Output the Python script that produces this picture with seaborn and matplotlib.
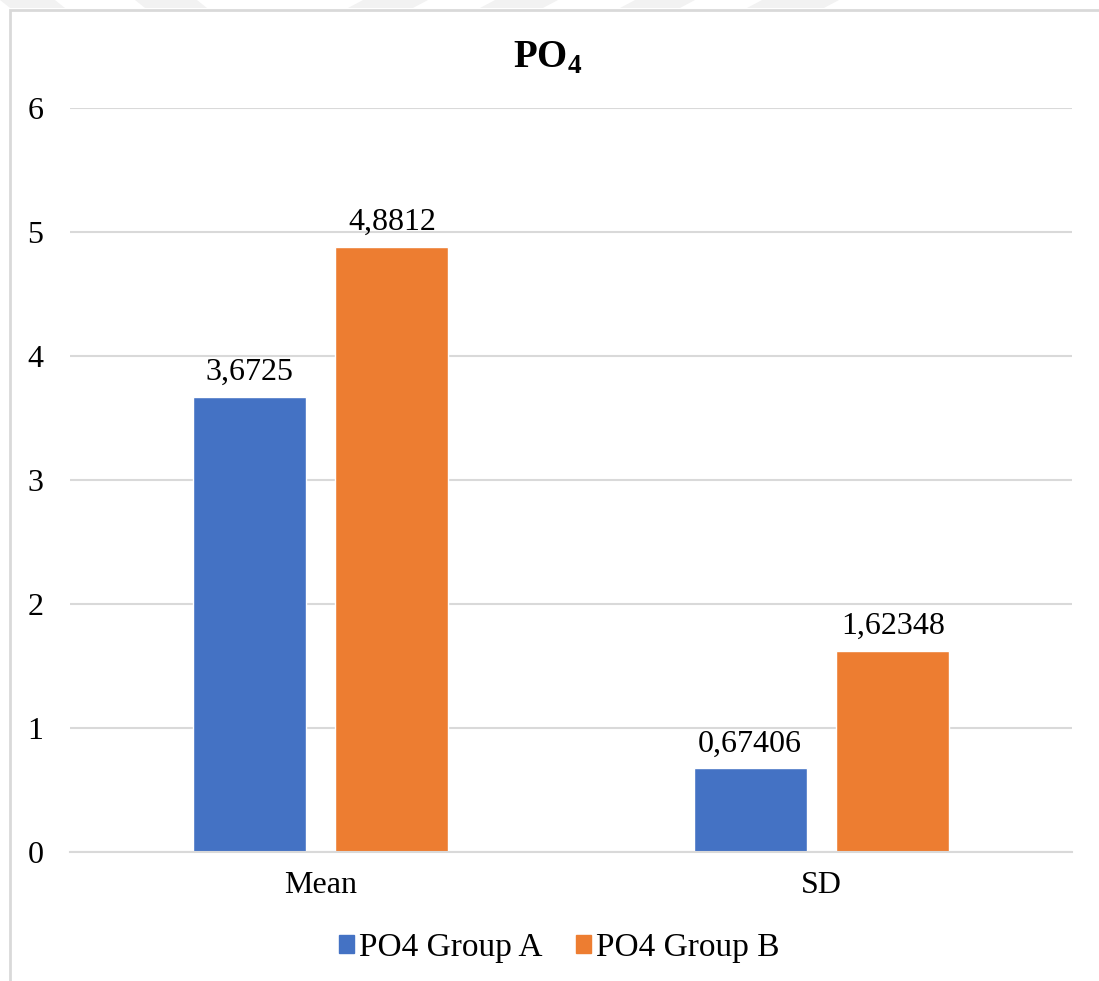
import matplotlib
matplotlib.use('Agg')
import matplotlib.pyplot as plt
import matplotlib.patches as mpatches
import pandas as pd
import seaborn as sns

# Data
categories = ['Mean', 'SD']
groups = ['PO4 Group A', 'PO4 Group B']
group_a = [3.6725, 0.67406]
group_b = [4.8812, 1.62348]
label_a = ['3,6725', '0,67406']
label_b = ['4,8812', '1,62348']
yticks = [0, 1, 2, 3, 4, 5, 6]

colors = ['#4472C4', '#ED7D31']

df = pd.DataFrame({
    'stat': categories * 2,
    'group': [groups[0]] * 2 + [groups[1]] * 2,
    'value': group_a + group_b,
})

sns.set_style('white')
plt.rcParams['font.family'] = ['Liberation Serif', 'DejaVu Serif']
plt.rcParams['mathtext.fontset'] = 'custom'
plt.rcParams['mathtext.rm'] = 'Liberation Serif'
plt.rcParams['mathtext.bf'] = 'Liberation Serif:bold'
plt.rcParams['text.color'] = 'black'
plt.rcParams['xtick.color'] = 'black'
plt.rcParams['ytick.color'] = 'black'

W, H = 1099, 981
fig = plt.figure(figsize=(W / 100, H / 100), dpi=100)
ax = fig.add_axes([70 / W, 1 - 852 / H, (1072 - 70) / W, (852 - 108) / H])

sns.barplot(data=df, x='stat', y='value', hue='group', order=categories,
            hue_order=groups, palette=colors, width=0.57, gap=0.21,
            saturation=1, ax=ax, legend=False)

for cont, labs in zip(ax.containers, [label_a, label_b]):
    ax.bar_label(cont, labels=labs, padding=7, fontsize=23, color='black')

ax.set_ylim(0, 6)
ax.set_yticks(yticks)
ax.set_xlim(-0.5, 1.5)
ax.yaxis.grid(True, color='#D9D9D9', linewidth=1.5)
ax.set_axisbelow(True)
for s in ['top', 'right', 'left']:
    ax.spines[s].set_visible(False)
ax.spines['bottom'].set_color('#D9D9D9')
ax.spines['bottom'].set_linewidth(1.5)
ax.tick_params(axis='y', length=0, pad=19, labelsize=23, labelcolor='black')
ax.tick_params(axis='x', length=0, pad=14, labelsize=23, labelcolor='black')
ax.set_xlabel('')
ax.set_ylabel('')

fig.text(548 / W, 1 - 58 / H, r'$\mathbf{PO}_\mathbf{4}$', ha='center',
         va='center', fontsize=28, color='black')

handles = [mpatches.Patch(color=c, label=g) for c, g in zip(colors, groups)]
fig.legend(handles=handles, loc='center', bbox_to_anchor=(559 / W, 1 - 948 / H),
           ncol=2, frameon=False, fontsize=24, handlelength=0.45,
           handleheight=0.45, handletextpad=0.15, columnspacing=1.0,
           labelcolor='black')

# chart frame
fig.add_artist(mpatches.Rectangle((10 / W, -0.01), 1.2, 1 - 10 / H + 0.01,
                                  transform=fig.transFigure, fill=False,
                                  edgecolor='#D9D9D9', linewidth=2))

# faint watermark stripes along the top edge
stripes = [(0, 55, 10), (135, 197, 10), (363, 428, -15), (495, 558, -15),
           (635, 695, -15), (762, 839, -15)]
for x0, x1, d in stripes:
    pts = [(x0, 0), (x1, 0), (x1 + d, 8), (x0 + d, 8)]
    pts = [(px / W, 1 - py / H) for px, py in pts]
    fig.add_artist(mpatches.Polygon(pts, closed=True, transform=fig.transFigure,
                                    facecolor='#F2F2F2', edgecolor='none'))

fig.savefig('out.png', dpi=100)
